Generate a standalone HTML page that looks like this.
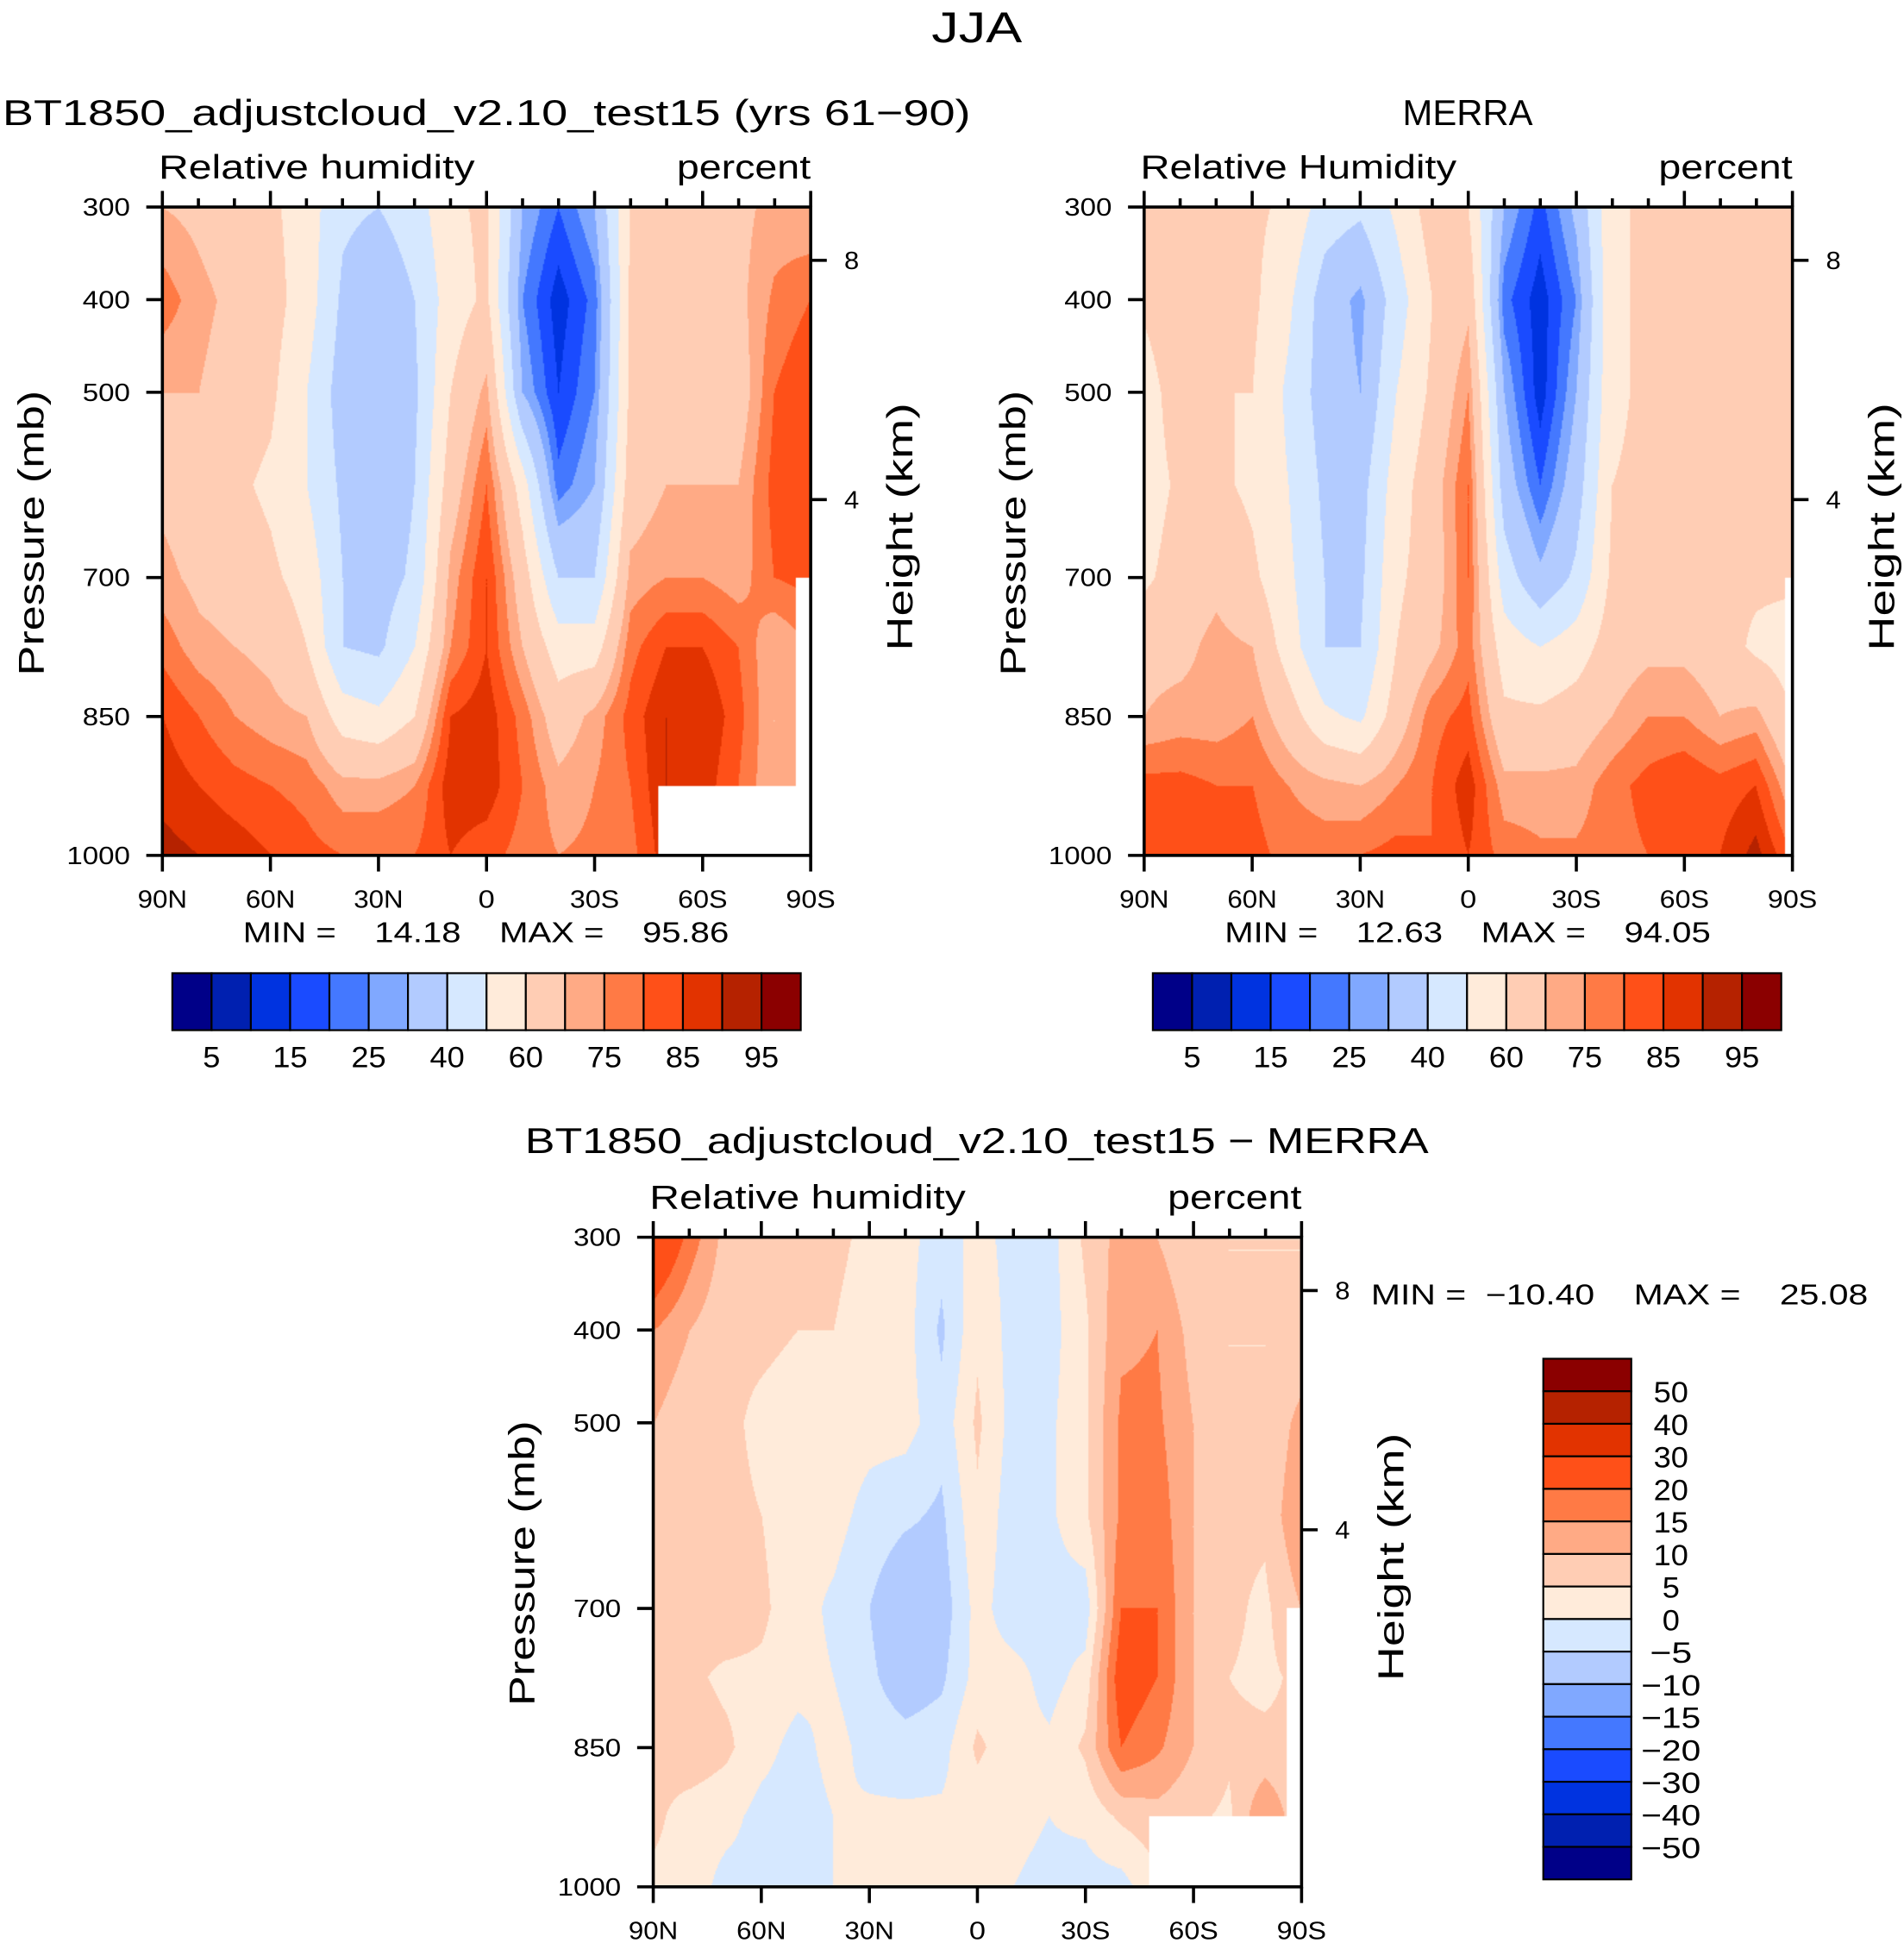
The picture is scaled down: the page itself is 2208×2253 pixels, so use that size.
<!DOCTYPE html>
<html><head><meta charset="utf-8"><style>
html,body{margin:0;padding:0;background:#fff;width:2208px;height:2253px;overflow:hidden}
#wrap{position:absolute;left:0;top:0;width:1536px;height:1567px;transform:scale(1.4375);transform-origin:0 0}
canvas{position:absolute}
svg{position:absolute;left:0;top:0}
text{font-family:"Liberation Sans",sans-serif;fill:#000;white-space:pre}
</style></head><body>
<div id="wrap">
<canvas id="c1" width="523" height="523" style="left:131px;top:167px"></canvas>
<canvas id="c2" width="523" height="523" style="left:923px;top:167px"></canvas>
<canvas id="c3" width="523" height="524" style="left:527px;top:998px"></canvas>
<svg id="s" width="1536" height="1567" viewBox="0 0 1536 1567"></svg>
</div>
<script>
const colors=["#000088","#0020b0","#0033e0","#1a4bff","#4478ff","#80a8ff","#b2cbff","#d6e8ff","#ffebda","#ffcdb4","#ffaa85","#ff7a45","#ff5018","#e23300","#b52200","#8b0000"];
const levelsRH=[5,10,15,20,25,30,40,50,60,70,75,80,85,90,95];
const levelsDiff=[-50,-40,-30,-20,-15,-10,-5,0,5,10,15,20,30,40,50];
const lats=[90,80,70,60,50,40,30,20,10,0,-10,-20,-30,-40,-50,-60,-70,-80,-90];
const pres=[300,400,500,600,700,775,850,925,1000];
const modelRH=[
[70,78,70,68,72,78,85,88,92],[68,72,70,65,68,72,80,85,90],[65,68,66,62,66,70,75,82,88],
[62,64,62,58,62,68,72,80,85],[55,55,50,50,56,60,70,78,82],[42,38,35,38,40,40,55,72,80],
[40,32,30,32,35,38,52,72,80],[45,40,38,40,42,50,60,75,80],[58,55,60,65,72,75,85,88,85],
[62,62,72,80,85,85,88,88,82],[30,25,30,55,65,70,78,80,78],[20,12,15,22,40,55,65,72,75],
[30,22,25,30,40,55,72,75,76],[60,62,62,65,72,78,82,80,78],[62,62,65,70,75,85,90,90,88],
[66,65,68,70,75,85,90,88,85],[68,68,65,70,72,80,82,80,80],[72,76,80,82,80,70,70,70,70],[70,80,85,85,82,75,75,75,75]];
const merraRH=[
[62,62,55,55,58,68,70,82,82],[65,68,66,62,65,68,72,82,85],[60,62,60,62,68,72,72,80,85],
[62,62,60,58,62,70,75,80,82],[58,52,48,50,52,55,65,75,78],[45,35,35,38,40,40,52,72,78],
[42,28,30,36,38,40,48,70,80],[52,45,50,55,58,60,65,75,82],[65,60,62,66,65,68,78,80,80],
[60,68,75,80,80,78,82,88,85],[30,22,30,35,45,55,62,72,78],[18,12,12,20,32,50,62,72,76],
[32,25,30,35,42,55,65,72,76],[58,58,58,60,62,65,70,78,78],[62,62,62,62,62,68,75,82,80],
[62,62,62,62,62,68,75,85,82],[65,65,62,65,62,65,70,82,85],[60,62,62,62,62,58,72,85,92],[62,62,62,62,62,55,60,70,80]];
const diffRH=[
[30,15,10,6,6,6,6,6,4],[18,10,6,6,6,6,8,3,3],[8,6,6,6,8,4,6,2,-2],
[6,6,4,5,6,4,2,-2,-2],[6,5,3,2,2,2,-2,-3,-2],[6,5,3,2,-1,0,2,0,0],
[4,3,2,-2,-5,-4,-2,1,2],[2,2,2,-4,-10,-8,-3,1,2],[-3,-6,-3,-6,-8,-6,-2,1,1],
[2,4,6,4,2,2,6,2,1],[-2,-2,-2,-3,-3,2,2,1,0],[-2,-2,-1,-1,-2,-2,1,0,-1],
[6,4,4,4,-3,2,6,1,-2],[12,14,16,16,20,24,20,6,-2],[10,15,16,18,20,20,16,8,4],
[5,8,10,10,10,10,10,6,4],[5,5,5,6,6,5,6,4,4],[5,5,5,6,4,4,6,15,10],[5,5,12,15,10,6,6,6,6]];
// missing-data regions: [latitude edge (deg, negative = S), pressure top (mb)]
const maskModel=[[-47.6,925],[-86.2,700]];
const maskMerra=[[-88,700]];
const maskDiff=[[-47.6,925],[-86.2,700]];

function drawField(id,data,levels,mask,W,H){
  const c=document.getElementById(id),ctx=c.getContext('2d');
  const img=ctx.createImageData(W,H);
  const rgb=colors.map(h=>[parseInt(h.substr(1,2),16),parseInt(h.substr(3,2),16),parseInt(h.substr(5,2),16)]);
  for(let y=0;y<H;y++){
    const p=300+y/(H-1)*700;
    let j=0;while(j<pres.length-2&&p>pres[j+1])j++;
    const fy=(p-pres[j])/(pres[j+1]-pres[j]);
    for(let x=0;x<W;x++){
      const lat=90-x/(W-1)*180;
      const o=(y*W+x)*4;
      let masked=false;mask.forEach(m=>{if(lat<=m[0]&&p>=m[1])masked=true;});
      if(masked){img.data[o]=255;img.data[o+1]=255;img.data[o+2]=255;img.data[o+3]=255;continue;}
      const fi=x/(W-1)*(lats.length-1);let i=Math.min(Math.floor(fi),lats.length-2);const fx=fi-i;
      const a=data[i][j],b=data[i+1][j],cc=data[i][j+1],d=data[i+1][j+1];
      const v=(a*(1-fx)+b*fx)*(1-fy)+(cc*(1-fx)+d*fx)*fy;
      let k=0;while(k<levels.length&&v>=levels[k])k++;
      const col=rgb[k];img.data[o]=col[0];img.data[o+1]=col[1];img.data[o+2]=col[2];img.data[o+3]=255;
    }
  }
  ctx.putImageData(img,0,0);
}
drawField('c1',modelRH,levelsRH,maskModel,523,523);
drawField('c2',merraRH,levelsRH,maskMerra,523,523);
drawField('c3',diffRH,levelsDiff,maskDiff,523,524);

const NS='http://www.w3.org/2000/svg',S=document.getElementById('s');
function el(tag,attrs,txt){const e=document.createElementNS(NS,tag);for(const k in attrs)e.setAttribute(k,attrs[k]);if(txt!==undefined)e.textContent=txt;S.appendChild(e);return e;}
function T(x,y,s,size,anchor,name,len,rot){const e=el('text',{x:x,y:y,'font-size':size,'text-anchor':anchor||'start'},s);
  if(len){e.setAttribute('textLength',len);e.setAttribute('lengthAdjust','spacingAndGlyphs');}
  if(rot)e.setAttribute('transform','rotate(-90 '+x+' '+y+')');
  
  return e;}
const latLabels=['90N','60N','30N','0','30S','60S','90S'];
const presTicks=[300,400,500,700,850,1000];
function axes(x0,y0,W,H,pfx,sub){
  const g=el('rect',{x:x0,y:y0,width:W,height:H,fill:'none',stroke:'#000','stroke-width':2.5});
  
  
  const py=p=>y0+(p-300)/700*H;
  presTicks.forEach(p=>{el('line',{x1:x0-13,x2:x0,y1:py(p),y2:py(p),stroke:'#000','stroke-width':2.5});
    const s=String(p);T(x0-26,py(p)+7,s,20,'end',pfx+'-y-tick-'+p,s.length*12.8);});
  for(let k=0;k<=18;k++){const x=x0+k*W/18;const major=k%3==0;
    el('line',{x1:x,x2:x,y1:y0,y2:y0-(major?13:7),stroke:'#000','stroke-width':2.5});
    if(major){el('line',{x1:x,x2:x,y1:y0+H,y2:y0+H+13,stroke:'#000','stroke-width':2.5});
      const s=latLabels[k/3];T(x,y0+H+42,s,20,'middle',pfx+'-x-tick-'+s,s.length*13.3);}}
  [[8,y0+43],[4,y0+236]].forEach(([h,y])=>{el('line',{x1:x0+W,x2:x0+W+13,y1:y,y2:y,stroke:'#000','stroke-width':2.5});
    T(x0+W+27,y+7,String(h),20,'start',pfx+'-height-tick-'+h,12);});
  T(x0-3,y0-23,'Relative '+sub,27,'start',pfx+'-variable-label',255);
  T(x0+W,y0-23,'percent',27,'end',pfx+'-units-label',108);
  T(x0-96,y0+263,'Pressure (mb)',29,'middle',pfx+'-y-axis-title',230,true);
  T(x0+W+82,y0+258,'Height (km)',29,'middle',pfx+'-height-axis-title',200,true);
}
axes(131,167,523,523,'model','humidity');
axes(923,167,523,523,'merra','Humidity');
axes(527,998,523,524,'diff','humidity');
T(788,34,'JJA',35,'middle','figure-title',73);
T(2,101,'BT1850_adjustcloud_v2.10_test15 (yrs 61−90)',29,'start','model-panel-title',781);
T(1184,101,'MERRA',29,'middle','merra-panel-title',105);
T(788,930,'BT1850_adjustcloud_v2.10_test15 − MERRA',29,'middle','diff-panel-title',729);
T(392,760,'MIN =    14.18    MAX =    95.86',23,'middle','model-min-max',392);
T(1184,760,'MIN =    12.63    MAX =    94.05',23,'middle','merra-min-max',392);
T(1106,1052,'MIN =  −10.40    MAX =    25.08',23,'start','diff-min-max',401);

const rhLabels=['5','15','25','40','60','75','85','95'];
const diffLabels=['50','40','30','20','15','10','5','0','−5','−10','−15','−20','−30','−40','−50'];
function hbar(x0,pfx){const w=507/16;
  colors.forEach((c,k)=>{const r=el('rect',{x:x0+k*w,y:785,width:w,height:46,fill:c,stroke:'#000','stroke-width':1.5});
    
    });
  rhLabels.forEach((l,i)=>T(x0+(2*i+1)*w,861,l,24,'middle',pfx+'-colorbar-label-'+l,l.length*14));}
hbar(139,'model');hbar(930,'merra');
const vh=420/16;
colors.slice().reverse().forEach((c,k)=>{const r=el('rect',{x:1245,y:1096+k*vh,width:71,height:vh,fill:c,stroke:'#000','stroke-width':1.5});
  
  });
diffLabels.forEach((l,i)=>{const neg=l[0]==='−';T(1348,1096+(i+1)*vh+9,l,24,'middle','diff-colorbar-label',neg?(l.length===2?34:48):l.length*14);});
</script>
</body></html>
